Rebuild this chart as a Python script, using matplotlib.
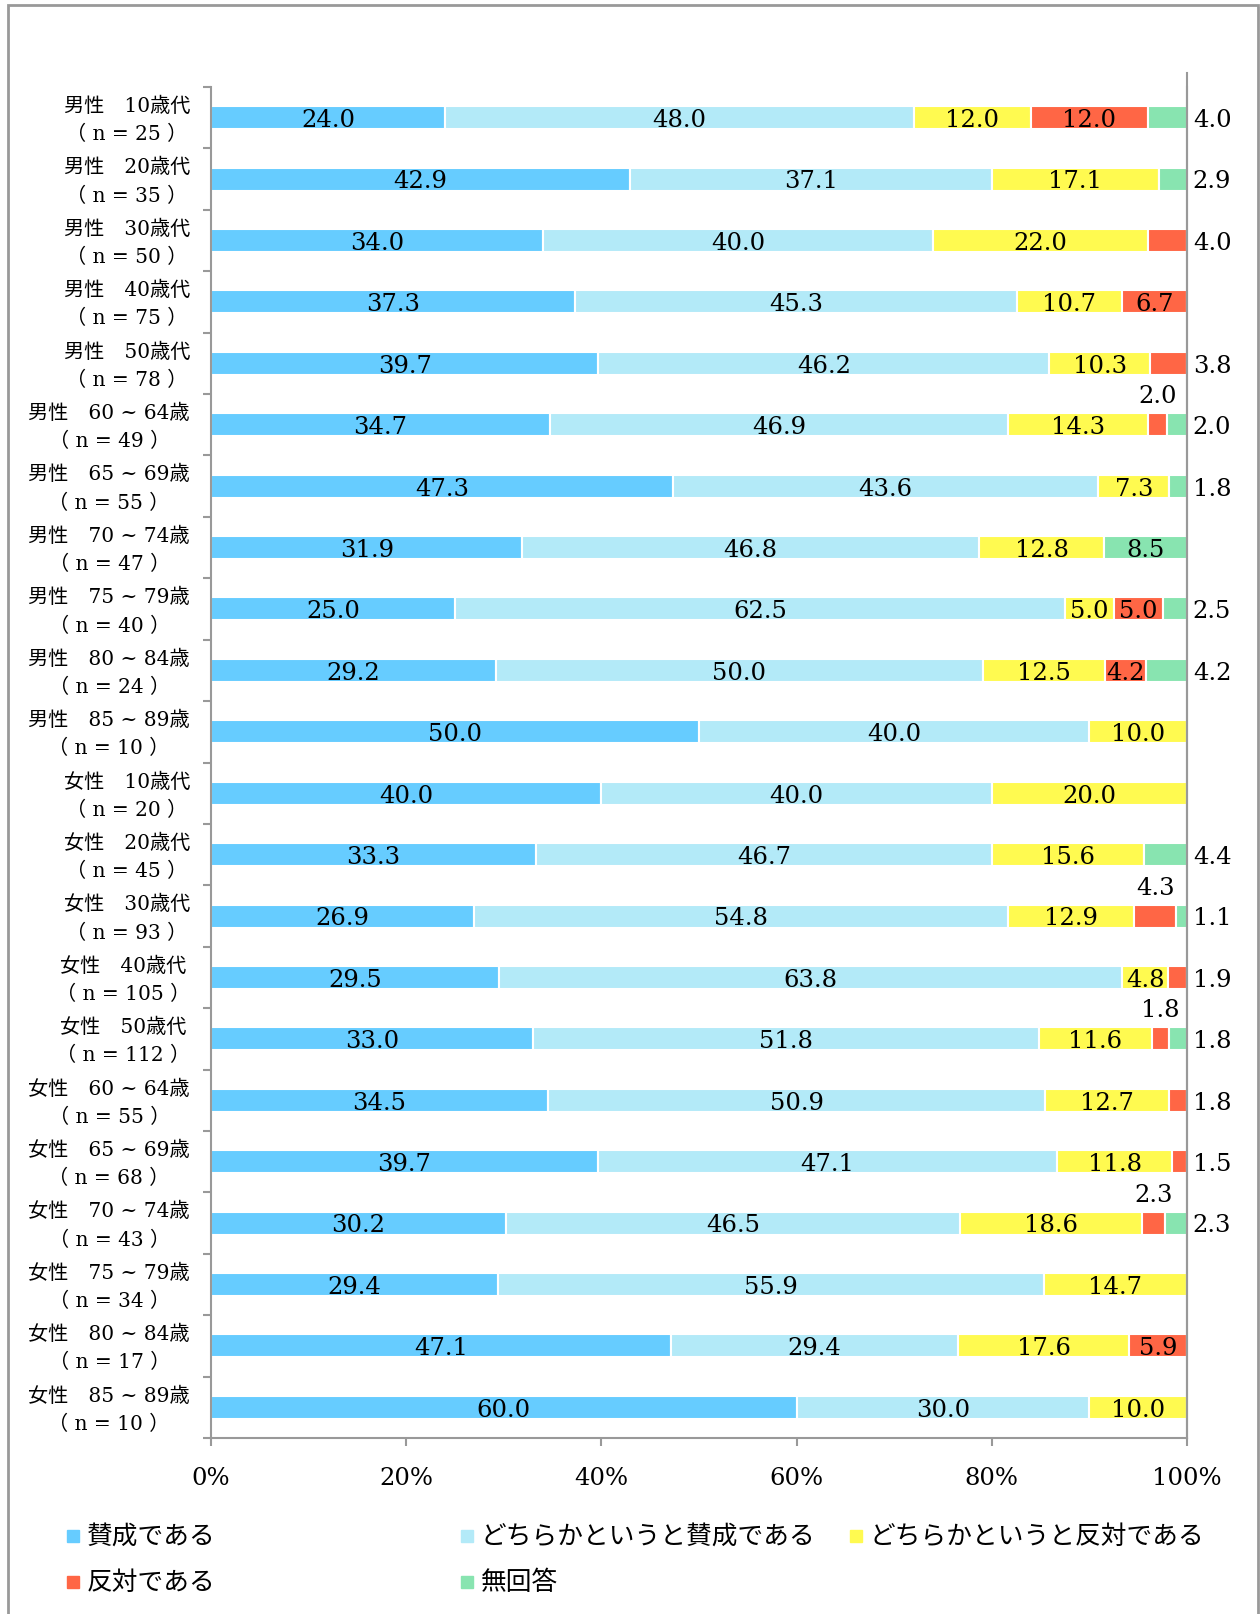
import numpy as np
import matplotlib
matplotlib.use('Agg')
import matplotlib.pyplot as plt
from matplotlib.patches import Rectangle
from matplotlib.transforms import blended_transform_factory

plt.rcParams['font.family'] = ['DejaVu Serif', 'Noto Sans CJK JP']

# data
groups = ['男性　10歳代', '男性　20歳代', '男性　30歳代', '男性　40歳代', '男性　50歳代',
          '男性　60 ~ 64歳', '男性　65 ~ 69歳', '男性　70 ~ 74歳', '男性　75 ~ 79歳',
          '男性　80 ~ 84歳', '男性　85 ~ 89歳',
          '女性　10歳代', '女性　20歳代', '女性　30歳代', '女性　40歳代', '女性　50歳代',
          '女性　60 ~ 64歳', '女性　65 ~ 69歳', '女性　70 ~ 74歳', '女性　75 ~ 79歳',
          '女性　80 ~ 84歳', '女性　85 ~ 89歳']
n_values = [25, 35, 50, 75, 78, 49, 55, 47, 40, 24, 10,
            20, 45, 93, 105, 112, 55, 68, 43, 34, 17, 10]

series_names = ['賛成である', 'どちらかというと賛成である', 'どちらかというと反対である',
                '反対である', '無回答']
agree = [24.0, 42.9, 34.0, 37.3, 39.7, 34.7, 47.3, 31.9, 25.0, 29.2, 50.0,
         40.0, 33.3, 26.9, 29.5, 33.0, 34.5, 39.7, 30.2, 29.4, 47.1, 60.0]
rather_agree = [48.0, 37.1, 40.0, 45.3, 46.2, 46.9, 43.6, 46.8, 62.5, 50.0, 40.0,
                40.0, 46.7, 54.8, 63.8, 51.8, 50.9, 47.1, 46.5, 55.9, 29.4, 30.0]
rather_oppose = [12.0, 17.1, 22.0, 10.7, 10.3, 14.3, 7.3, 12.8, 5.0, 12.5, 10.0,
                 20.0, 15.6, 12.9, 4.8, 11.6, 12.7, 11.8, 18.6, 14.7, 17.6, 10.0]
oppose = [12.0, 0, 4.0, 6.7, 3.8, 2.0, 0, 0, 5.0, 4.2, 0,
          0, 0, 4.3, 1.9, 1.8, 1.8, 1.5, 2.3, 0, 5.9, 0]
no_answer = [4.0, 2.9, 0, 0, 0, 2.0, 1.8, 8.5, 2.5, 4.2, 0,
             0, 4.4, 1.1, 0, 1.8, 0, 0, 2.3, 0, 0, 0]
xtick_labels = ['0%', '20%', '40%', '60%', '80%', '100%']

colors = ['#66CCFF', '#B3EAF8', '#FFFA50', '#FF6645', '#88E4B0']
# labels drawn above the bar (row, series)
above_labels = {(5, 3), (13, 3), (15, 3), (18, 3)}

values = np.array([agree, rather_agree, rather_oppose, oppose, no_answer])
totals = values.sum(axis=0)
shares = values / totals * 100  # 100% stacked

fig = plt.figure(figsize=(12.6, 16.15), dpi=100)
ax = fig.add_axes([211 / 1260, 176 / 1615, 976 / 1260, 1351 / 1615])

fs_num = 17.5
y = np.arange(len(groups))
left = np.zeros(len(groups))
for j in range(len(series_names)):
    ax.barh(y, shares[j], left=left, height=0.375, color=colors[j],
            edgecolor='white', linewidth=1.5)
    for i in range(len(groups)):
        v = values[j, i]
        if v == 0:
            continue
        nz = np.nonzero(values[:, i])[0]
        last = nz[-1]
        cx = left[i] + shares[j, i] / 2
        if (i, j) in above_labels:
            ax.text(cx, i - 0.47, f'{v:.1f}', ha='center', va='center',
                    fontsize=fs_num, clip_on=False)
        elif j == last and v < 5:
            ax.text(100.6, i + 0.03, f'{v:.1f}', ha='left', va='center',
                    fontsize=fs_num, clip_on=False)
        else:
            ax.text(cx, i + 0.03, f'{v:.1f}', ha='center', va='center',
                    fontsize=fs_num)
    left += shares[j]

ax.set_xlim(0, 100)
ax.set_ylim(len(groups) - 0.5, -0.5)
ax.set_xticks(np.arange(0, 101, 20))
ax.set_xticklabels(xtick_labels, fontsize=fs_num)

# category labels (two lines, centred on each other)
trans = blended_transform_factory(ax.transAxes, ax.transData)
for i, (g, n) in enumerate(zip(groups, n_values)):
    ax.text(-21 / 976, i + 0.03, f'{g}\n（ n = {n} ）', transform=trans,
            ha='right', va='center', multialignment='center',
            linespacing=1.6, fontsize=14.5, clip_on=False)
ax.set_yticks([])
ax.set_yticks(np.arange(-0.5, len(groups), 1), minor=True)
ax.tick_params(axis='y', which='minor', length=6, color='#999999', width=1.5)
ax.tick_params(axis='x', length=6, color='#999999', width=1.5, pad=14)

ax.spines['top'].set_visible(False)
for s in ['left', 'bottom', 'right']:
    ax.spines[s].set_color('#999999')
    ax.spines[s].set_linewidth(1.5)
ax.plot([1, 1], [0, 1.01], transform=ax.transAxes, color='#999999', lw=1.5, clip_on=False)

# legend
legend_x = [67, 461, 850]
legend_y = [1537, 1583]
for k, name in enumerate(series_names):
    lx = legend_x[k % 3]
    ly = legend_y[k // 3]
    fig.patches.append(Rectangle((lx / 1260, 1 - (ly + 6) / 1615), 12 / 1260, 12 / 1615,
                                 transform=fig.transFigure, color=colors[k]))
    fig.text((lx + 20) / 1260, 1 - ly / 1615, name, fontsize=18.5,
             family='Noto Sans CJK JP', va='center', ha='left')

# outer frame
fig.patches.append(Rectangle((8 / 1260, -0.01), 1250 / 1260, 1 - 6 / 1615 + 0.01,
                             transform=fig.transFigure, fill=False,
                             edgecolor='#999999', lw=2))

plt.savefig('out.png', dpi=100)
